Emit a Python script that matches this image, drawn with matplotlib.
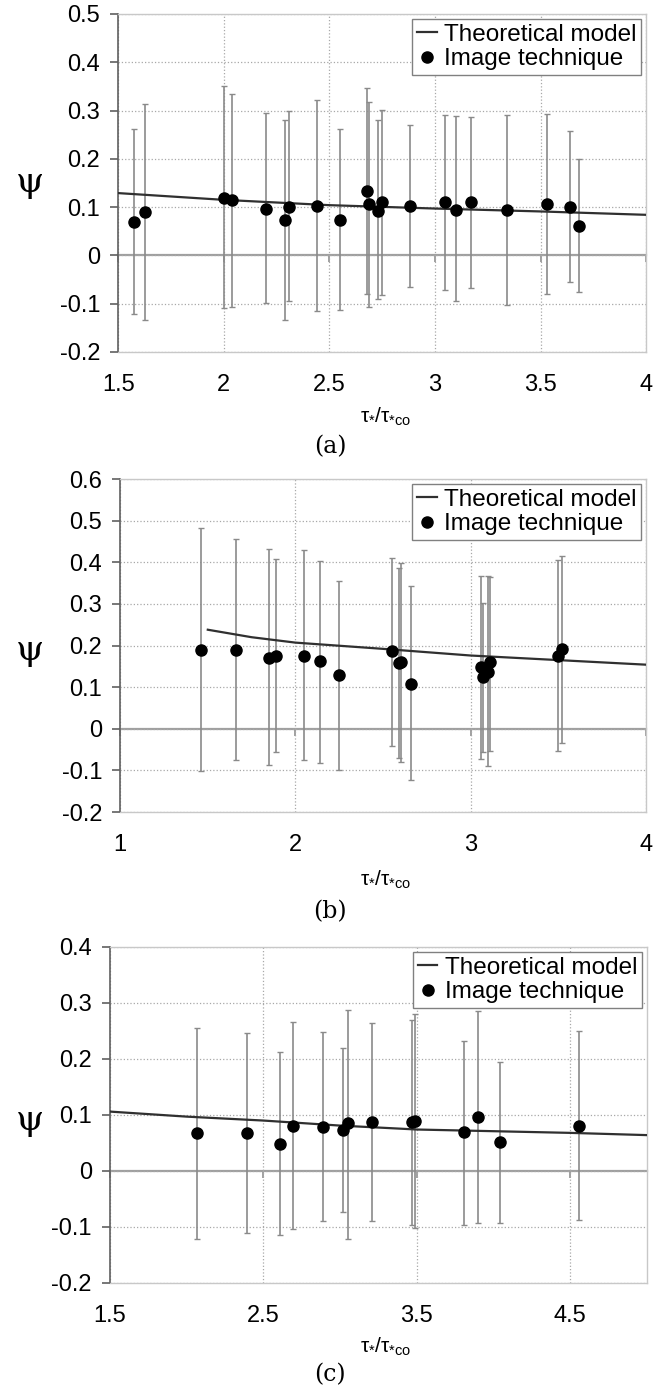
import numpy as np
import matplotlib
matplotlib.use('Agg')
import matplotlib.pyplot as plt
from matplotlib.ticker import FuncFormatter

plt.rcParams['font.family'] = ['Liberation Sans', 'DejaVu Sans']
plt.rcParams['axes.unicode_minus'] = False

# ── Panel (a) ───────────────────────────────────────────────────────────────
a_x   = [1.575, 1.629, 2.00, 2.04, 2.20, 2.29, 2.31, 2.44, 2.55, 2.68, 2.69,
         2.73, 2.75, 2.88, 3.05, 3.10, 3.17, 3.34, 3.53, 3.64, 3.68]
a_y   = [0.069, 0.090, 0.119, 0.114, 0.097, 0.073, 0.100, 0.102, 0.073, 0.133, 0.107,
         0.092, 0.110, 0.102, 0.110, 0.095, 0.110, 0.093, 0.106, 0.101, 0.061]
a_top = [0.262, 0.314, 0.350, 0.334, 0.294, 0.281, 0.300, 0.322, 0.261, 0.347, 0.317,
         0.280, 0.302, 0.271, 0.291, 0.288, 0.287, 0.291, 0.292, 0.258, 0.200]
a_bot = [-0.121, -0.133, -0.109, -0.107, -0.099, -0.133, -0.095, -0.116, -0.114, -0.080, -0.107,
         -0.090, -0.082, -0.066, -0.072, -0.095, -0.068, -0.102, -0.079, -0.055, -0.075]
a_mx  = [1.5, 2.0, 2.5, 3.0, 3.5, 4.0]
a_my  = [0.129, 0.115, 0.104, 0.097, 0.091, 0.084]

# ── Panel (b) ───────────────────────────────────────────────────────────────
b_x   = [1.46, 1.66, 1.85, 1.89, 2.05, 2.14, 2.25, 2.55, 2.59, 2.60, 2.66,
         3.06, 3.07, 3.10, 3.11, 3.50, 3.52]
b_y   = [0.190, 0.190, 0.169, 0.176, 0.176, 0.162, 0.130, 0.186, 0.157, 0.160, 0.108,
         0.149, 0.124, 0.136, 0.160, 0.174, 0.192]
b_top = [0.483, 0.456, 0.431, 0.407, 0.430, 0.404, 0.354, 0.411, 0.386, 0.398, 0.344,
         0.367, 0.302, 0.366, 0.365, 0.406, 0.416]
b_bot = [-0.102, -0.075, -0.086, -0.055, -0.075, -0.082, -0.098, -0.041, -0.071, -0.079, -0.123,
         -0.072, -0.055, -0.090, -0.054, -0.054, -0.034]
b_mx  = [1.5, 1.75, 2.0, 2.5, 3.0, 3.5, 4.0]
b_my  = [0.238, 0.220, 0.207, 0.192, 0.176, 0.165, 0.154]

# ── Panel (c) ───────────────────────────────────────────────────────────────
c_x   = [2.067, 2.39, 2.61, 2.69, 2.89, 3.02, 3.05, 3.21, 3.47, 3.49, 3.81, 3.90, 4.04, 4.56]
c_y   = [0.068, 0.068, 0.049, 0.081, 0.079, 0.073, 0.085, 0.087, 0.087, 0.089, 0.069, 0.096, 0.051, 0.081]
c_top = [0.256, 0.247, 0.213, 0.266, 0.248, 0.220, 0.288, 0.264, 0.270, 0.281, 0.232, 0.286, 0.194, 0.250]
c_bot = [-0.121, -0.111, -0.114, -0.103, -0.090, -0.073, -0.121, -0.090, -0.096, -0.102, -0.096, -0.093, -0.093, -0.087]
c_mx  = [1.5, 2.0, 2.5, 3.0, 3.5, 4.0, 4.5, 5.0]
c_my  = [0.106, 0.097, 0.090, 0.081, 0.074, 0.071, 0.068, 0.064]

panels = [
    dict(x=a_x, y=a_y, top=a_top, bot=a_bot, mx=a_mx, my=a_my,
         xlim=(1.5, 4), xticks=[1.5, 2, 2.5, 3, 3.5, 4], ylim=(-0.2, 0.5),
         rect=[0.179, 0.7477, 0.800, 0.2423], psi_y=182 / 1395, cap='(a)', cap_y=447 / 1395,
         xl_y=417 / 1395),
    dict(x=b_x, y=b_y, top=b_top, bot=b_bot, mx=b_mx, my=b_my,
         xlim=(1, 4), xticks=[1, 2, 3, 4], ylim=(-0.2, 0.6),
         rect=[0.182, 0.4179, 0.797, 0.2387], psi_y=650 / 1395, cap='(b)', cap_y=912 / 1395,
         xl_y=880 / 1395),
    dict(x=c_x, y=c_y, top=c_top, bot=c_bot, mx=c_mx, my=c_my,
         xlim=(1.5, 5), xticks=[1.5, 2.5, 3.5, 4.5], ylim=(-0.2, 0.4),
         rect=[0.1667, 0.0803, 0.8136, 0.2409], psi_y=1120 / 1395, cap='(c)', cap_y=1375 / 1395,
         xl_y=1347 / 1395),
]

fig = plt.figure(figsize=(6.6, 13.95), dpi=100)

for p in panels:
    ax = fig.add_axes(p['rect'])
    x = np.array(p['x']); y = np.array(p['y'])
    yerr = [y - np.array(p['bot']), np.array(p['top']) - y]

    ymin, ymax = p['ylim']
    ax.set_xlim(*p['xlim'])
    ax.set_ylim(ymin, ymax)
    ax.set_xticks(p['xticks'])
    ax.set_yticks(np.round(np.arange(ymin, ymax + 0.001, 0.1), 1))
    ax.xaxis.set_major_formatter(FuncFormatter(lambda v, _: f'{v:g}'))
    ax.yaxis.set_major_formatter(FuncFormatter(lambda v, _: f'{round(v, 1):g}'))

    # dotted grid
    ax.grid(True, linestyle=':', color='#a8a8a8', linewidth=0.9)
    ax.set_axisbelow(True)

    for s in ['top', 'right', 'bottom']:
        ax.spines[s].set_color('#c8c8c8')
        ax.spines[s].set_linewidth(1.0)
    ax.spines['left'].set_color('#606060')
    ax.spines['left'].set_linewidth(1.2)

    ax.tick_params(axis='x', length=0, pad=16, labelsize=17)
    ax.tick_params(axis='y', direction='out', length=6, width=1.2, color='#606060',
                   pad=7, labelsize=17)

    # zero line with downward tick marks
    sec = ax.secondary_xaxis((0 - ymin) / (ymax - ymin))
    sec.set_xticks(p['xticks'])
    sec.tick_params(direction='out', length=5, width=1.2, color='#909090',
                    labelbottom=False, labeltop=False)
    for s in sec.spines.values():
        s.set_color('#a0a0a0')
        s.set_linewidth(1.6)

    ax.errorbar(x, y, yerr=yerr, fmt='none', ecolor='#8a8a8a', elinewidth=1.2,
                capsize=2.5, capthick=1.0, zorder=3)
    ax.plot(p['mx'], p['my'], color='#303030', linewidth=1.6, label='Theoretical model', zorder=4)
    ax.plot(x, y, 'o', color='black', markersize=8, linestyle='none',
            label='Image technique', zorder=5)

    leg = ax.legend(loc='upper right', fontsize=17.5, frameon=True, fancybox=False,
                    edgecolor='#808080', framealpha=1, borderaxespad=0.2, borderpad=0.2,
                    handlelength=0.8, handletextpad=0.3, labelspacing=0.1)
    leg.get_frame().set_linewidth(1.0)

    fig.text(30 / 660, 1 - p['psi_y'], 'ψ', fontsize=26, ha='center', va='center',
             family=['DejaVu Serif'])

    fig.text(0.585, 1 - p['xl_y'], r'$\mathregular{\tau_{*}/\tau_{*co}}$', fontsize=15,
             ha='center', va='center')
    fig.text(0.5, 1 - p['cap_y'], p['cap'], fontsize=17, ha='center', va='center',
             family=['DejaVu Serif'])

plt.savefig('out.png', dpi=100)
plt.close()
